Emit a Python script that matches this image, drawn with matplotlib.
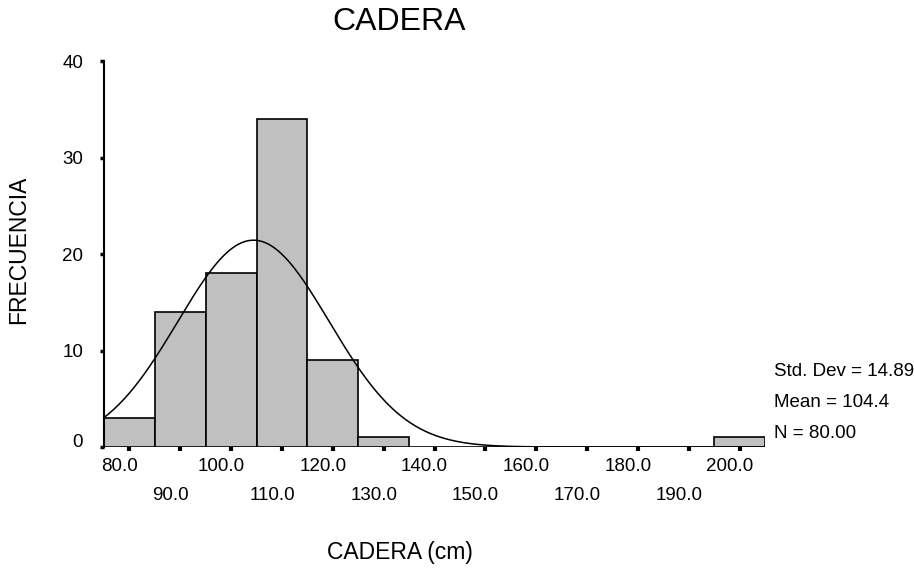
import numpy as np
import matplotlib
matplotlib.use('Agg')
import matplotlib.pyplot as plt
from matplotlib.transforms import ScaledTranslation

# histogram of CADERA (cm), bins of width 10
centers = [80, 90, 100, 110, 120, 130, 140, 150, 160, 170, 180, 190, 200]
counts  = [3, 14, 18, 34, 9, 1, 0, 0, 0, 0, 0, 0, 1]
std_dev = 14.89
mean = 104.4
n = 80
bin_width = 10

plt.rcParams['font.family'] = ['Liberation Sans', 'DejaVu Sans']

fig = plt.figure(figsize=(9.14, 5.68), dpi=100)
ax = fig.add_axes([0.1138, 0.213, 0.7232, 0.6796])

ax.bar(centers, counts, width=bin_width, color='#c0c0c0',
       edgecolor='black', linewidth=1.2)

xs = np.linspace(75, 205, 400)
ys = n * bin_width / (std_dev * np.sqrt(2 * np.pi)) * np.exp(-0.5 * ((xs - mean) / std_dev) ** 2)
ax.plot(xs, ys, color='black', linewidth=1.1)

ax.set_xlim(75, 205)
ax.set_ylim(0, 40)

for s in ['top', 'right', 'bottom']:
    ax.spines[s].set_visible(False)
ax.spines['left'].set_linewidth(1.5)

ax.set_yticks([0, 10, 20, 30, 40])
ax.tick_params(axis='y', length=3, width=2.5, labelsize=13.5, pad=12)
# SPSS nudges the zero label up a bit
ylabs = ax.get_yticklabels()
ylabs[0].set_transform(ylabs[0].get_transform() + ScaledTranslation(0, 7 / 100, fig.dpi_scale_trans))

major = centers[::2]
minor = centers[1::2]
ax.set_xticks(major)
ax.set_xticklabels(['%.1f' % v for v in major])
ax.set_xticks(minor, minor=True)
ax.set_xticklabels(['%.1f' % v for v in minor], minor=True)
ax.tick_params(axis='x', which='both', length=3, width=3, labelsize=13.5)
ax.tick_params(axis='x', which='major', pad=5)
ax.tick_params(axis='x', which='minor', pad=26)
shift = ScaledTranslation(-10 / 100, 0, fig.dpi_scale_trans)
for lab in ax.get_xticklabels(which='both'):
    lab.set_transform(lab.get_transform() + shift)

fig.text(399 / 914, 1 - 22 / 568, 'CADERA', ha='center', va='center', fontsize=23)
fig.text(400 / 914, 1 - 553 / 568, 'CADERA (cm)', ha='center', va='center', fontsize=16.5)
fig.text(19 / 914, 1 - 250 / 568, 'FRECUENCIA', ha='center', va='center', rotation=90, fontsize=16.5)

stats = ['Std. Dev = %.2f' % std_dev, 'Mean = %.1f' % mean, 'N = %.2f' % n]
for i, t in enumerate(stats):
    fig.text(774 / 914, 1 - (372 + 30.5 * i) / 568, t, ha='left', va='center', fontsize=13.5)

fig.savefig('out.png', dpi=100)
